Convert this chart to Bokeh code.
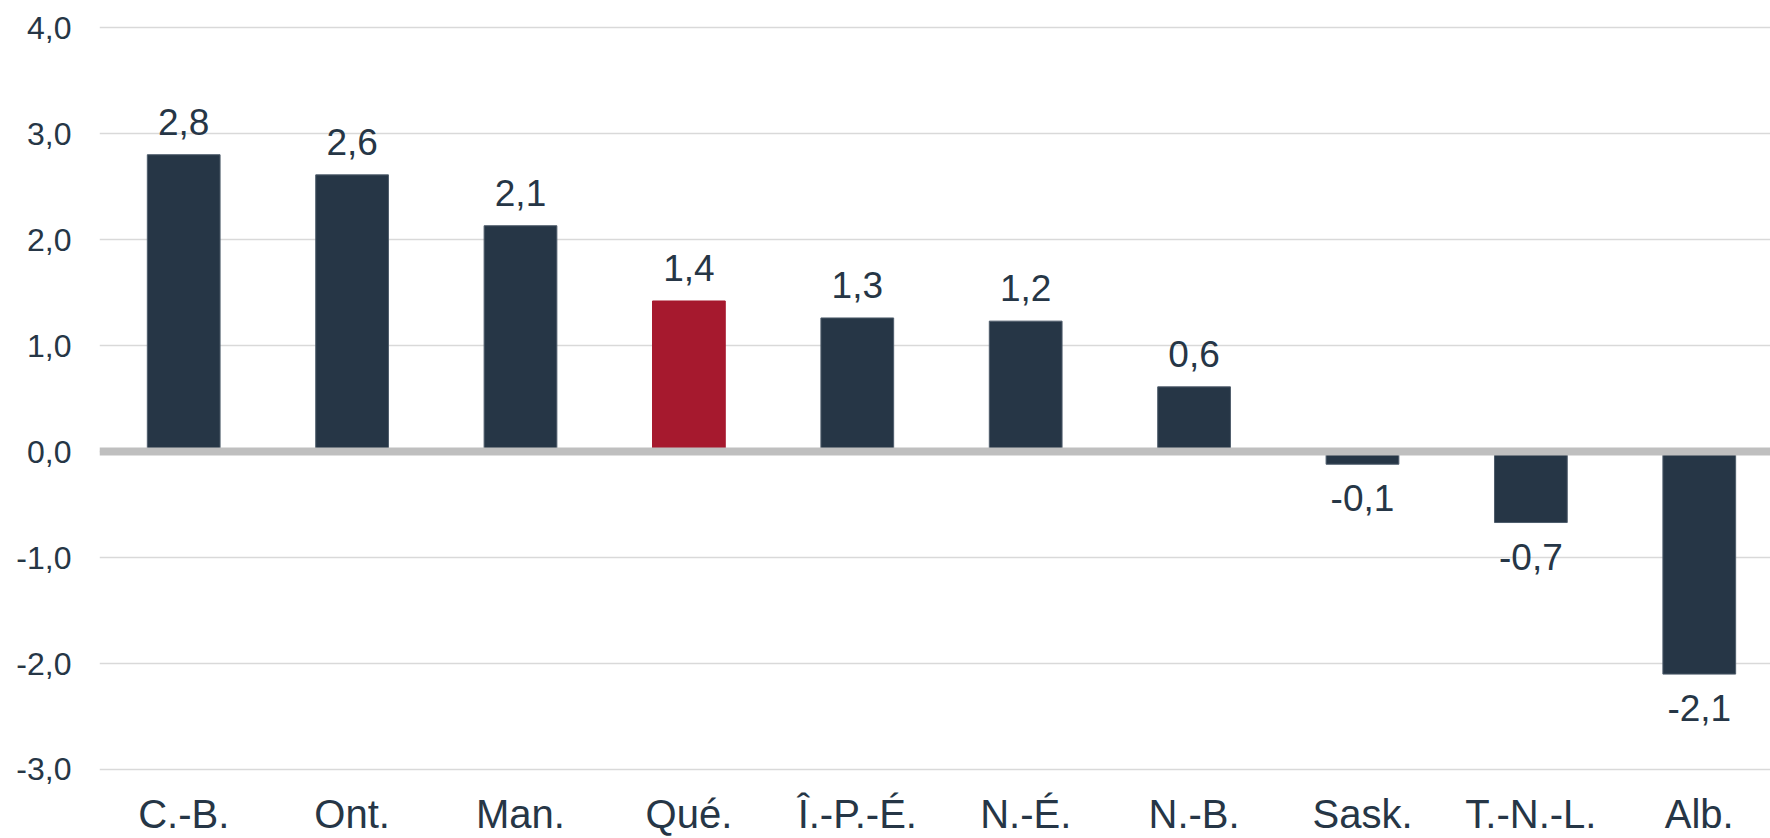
from bokeh.plotting import figure
from bokeh.models import ColumnDataSource, FixedTicker, Range1d, Span, CustomJSTickFormatter
from bokeh.core.properties import value
from bokeh.embed import file_html
from bokeh.resources import INLINE

categories = ["C.-B.", "Ont.", "Man.", "Qué.", "Î.-P.-É.", "N.-É.", "N.-B.", "Sask.", "T.-N.-L.", "Alb."]
values = [2.80, 2.61, 2.13, 1.42, 1.26, 1.23, 0.61, -0.12, -0.67, -2.10]
highlight = "Qué."
y_ticks = [-3, -2, -1, 0, 1, 2, 3, 4]

NAVY = "#263646"
RED = "#a6192e"
TXT = "#263646"
FONT = "Liberation Sans"


def fr(v):
    return f"{v:.1f}".replace(".", ",")


xs = [i + 0.5 for i in range(len(categories))]
colors = [RED if c == highlight else NAVY for c in categories]
edges = [RED if c == highlight else "#4e5c6b" for c in categories]

p = figure(
    x_range=Range1d(0, 9.923),
    y_range=Range1d(-3.651, 4.255),
    width=1770, height=838,
    output_backend="svg", toolbar_location=None,
    min_border=0, min_border_left=99, min_border_right=0,
    min_border_top=0, min_border_bottom=0,
)
p.outline_line_color = None
p.background_fill_color = "white"
p.border_fill_color = "white"

src = ColumnDataSource(dict(x=xs, cat=categories, val=values, color=colors, edge=edges))
p.vbar(x="x", top="val", bottom=0, width=0.432, fill_color="color", line_color="edge",
       line_width=1, source=src)

pos = [(x, v) for x, v in zip(xs, values) if v >= 0]
neg = [(x, v) for x, v in zip(xs, values) if v < 0]
src_pos = ColumnDataSource(dict(x=[x for x, _ in pos], y=[v for _, v in pos], t=[fr(v) for _, v in pos]))
src_neg = ColumnDataSource(dict(x=[x for x, _ in neg], y=[v for _, v in neg], t=[fr(v) for _, v in neg]))

common = dict(text_align="center", text_baseline="alphabetic", text_font=value(FONT),
              text_font_size="37px", text_color=TXT)
p.text(x="x", y="y", text="t", source=src_pos, y_offset=-33, **common)
p.text(x="x", y="y", text="t", source=src_neg, y_offset=34, **common)

# category labels along the bottom
src_cat = ColumnDataSource(dict(x=xs, y=[p.y_range.start] * len(categories), t=categories))
p.text(x="x", y="y", text="t", source=src_cat, y_offset=-25, text_align="center",
       text_baseline="alphabetic", text_font=value(FONT), text_font_size="40px", text_color=TXT)

p.add_layout(Span(location=0, dimension="width", line_color="#bfbfbf", line_width=8))

p.xaxis.visible = False
p.xgrid.grid_line_color = None
p.ygrid.grid_line_color = "#d9d9d9"
p.ygrid.grid_line_width = 1.5
p.ygrid.ticker = FixedTicker(ticks=y_ticks)

ya = p.yaxis[0]
ya.ticker = FixedTicker(ticks=y_ticks)
ya.formatter = CustomJSTickFormatter(code="return tick.toFixed(1).replace('.', ',');")
ya.axis_line_color = None
ya.major_tick_line_color = None
ya.minor_tick_line_color = None
ya.major_tick_out = 0
ya.major_tick_in = 0
ya.major_label_standoff = 28
ya.major_label_text_font = FONT
ya.major_label_text_font_size = "32px"
ya.major_label_text_color = TXT

open("out.html", "w").write(file_html(p, INLINE))
